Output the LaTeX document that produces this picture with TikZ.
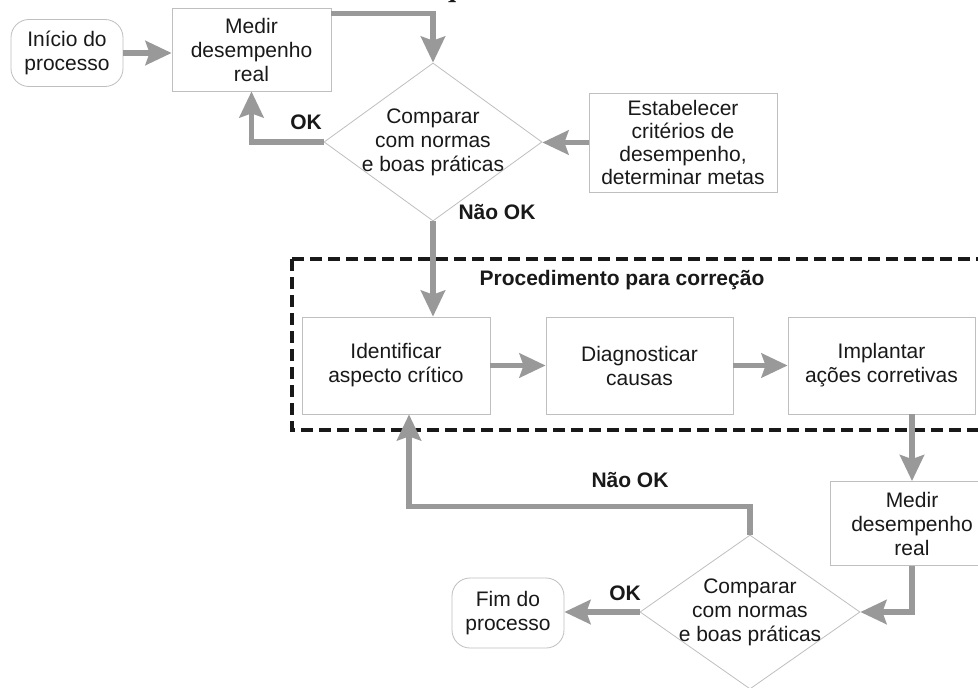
\documentclass[tikz,border=0pt]{standalone}
\usepackage{fontspec}
\setmainfont{Liberation Sans}
\newfontfamily\titlefont{Liberation Serif}
\usetikzlibrary{arrows.meta,shapes.geometric,calc}
\definecolor{arrowgray}{HTML}{999999}
\definecolor{boxgray}{HTML}{BFBFBF}
\begin{document}
\begin{tikzpicture}[x=1pt,y=-1pt,
    font=\fontsize{21}{24}\selectfont, text=black!90,
    box/.style={draw=boxgray, line width=0.8pt, align=center, inner sep=0pt},
    terminal/.style={box, rounded corners=18pt},
    decision/.style={diamond, draw=boxgray, line width=0.8pt, inner sep=0pt},
    flow/.style={draw=arrowgray, line width=5.5pt, -{Stealth[length=26pt,width=24pt,inset=4pt]}},
    tag/.style={font=\fontsize{21}{24}\selectfont\bfseries}]
    \useasboundingbox [fill=white] (0,0) rectangle (978,688);
    \node [anchor=base west, inner sep=0pt, font=\titlefont\bfseries\fontsize{29}{29}\selectfont] (titulo) at (440,-3) {qualidade};
    % correction block
    \draw [black!90, line width=4pt, dash pattern=on 12pt off 6pt] (292,259) rectangle (1000,430);
    \node [tag] (proc) at (622,280) {Procedimento para correção};
    % nodes
    \node [terminal, minimum width=112pt, minimum height=67pt] (inicio) at (67,53) {Início do\\processo};
    \node [box, minimum width=159pt, minimum height=83pt] (medir1) at (251.5,49.5) {Medir\\desempenho\\real};
    \node [decision, minimum width=218pt, minimum height=158pt] (comp1) at (433,142) {};
    \node [align=center] (comp1txt) at (comp1) {Comparar\\com normas\\e boas práticas};
    \node [box, minimum width=188pt, minimum height=99pt, font=\fontsize{21}{23}\selectfont] (estab) at (683,142.5) {Estabelecer\\critérios de\\desempenho,\\determinar metas};
    \node [box, minimum width=188pt, minimum height=97pt] (ident) at (396,365.5) {Identificar\\aspecto crítico};
    \node [box, minimum width=187pt, minimum height=97pt] (diag) at (639.5,365.5) {Diagnosticar\\causas};
    \node [box, minimum width=187pt, minimum height=97pt] (impl) at (881.5,365.5) {Implantar\\ações corretivas};
    \node [box, minimum width=164pt, minimum height=84pt] (medir2) at (912,523.5) {Medir\\desempenho\\real};
    \node [decision, minimum width=220pt, minimum height=154pt] (comp2) at (750,612) {};
    \node [align=center] (comp2txt) at (comp2) {Comparar\\com normas\\e boas práticas};
    \node [terminal, minimum width=112pt, minimum height=70pt] (fim) at (508,613) {Fim do\\processo};
    % connectors
    \draw [flow] (inicio.east) -- (inicio.east -| medir1.west);
    \draw [flow] ([yshift=-6pt]medir1.north east) -| (comp1.north);
    \draw [flow] (comp1.west) -| (medir1.south);
    \draw [flow] (estab.west) -- (estab.west -| comp1.east);
    \draw [flow] (comp1.south) -- (comp1.south |- ident.north);
    \draw [flow] (ident.east) -- (diag.west);
    \draw [flow] (diag.east) -- (impl.west);
    \draw [flow] (impl.south -| medir2.north) -- (medir2.north);
    \draw [flow] (medir2.south) |- (comp2.east);
    \draw [flow] (comp2.west) -- (comp2.west -| fim.east);
    \draw [flow] (comp2.north) -- ++(0,-28) -| ([xshift=13pt]ident.south);
    % labels
    \node [tag] (ok1) at (306,122) {OK};
    \node [tag] (nok1) at (497,212) {Não OK};
    \node [tag] (nok2) at (630,480) {Não OK};
    \node [tag] (ok2) at (625,593) {OK};
\end{tikzpicture}
\end{document}
